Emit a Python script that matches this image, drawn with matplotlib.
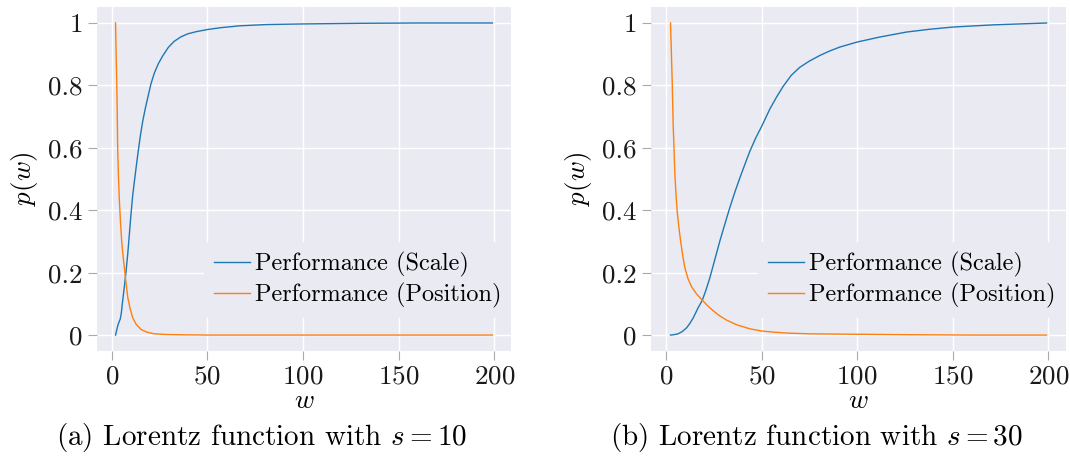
import matplotlib
matplotlib.use("Agg")
import matplotlib.pyplot as plt

# Lorentz performance curves, sampled values for s = 10
w_scale_10 = [2.0, 3.1, 4.0, 4.4, 5.0, 5.7, 6.6, 7.5, 8.4, 9.2, 10.1, 11.0, 12.2, 13.6, 15.0,
              16.2, 17.5, 18.8, 20.5, 22.3, 24.4, 26.7, 29.6, 32.6, 36.0, 39.6, 44.0, 50.0,
              57.0, 67.0, 81.0, 100.0, 130.0, 160.0, 199.0]
p_scale_10 = [0.0, 0.029, 0.045, 0.05, 0.07, 0.109, 0.155, 0.205, 0.262, 0.322, 0.39, 0.45,
              0.51, 0.578, 0.64, 0.685, 0.725, 0.76, 0.805, 0.84, 0.87, 0.895, 0.922, 0.941,
              0.955, 0.965, 0.972, 0.979, 0.985, 0.991, 0.995, 0.997, 0.999, 1.0, 1.0]
w_pos_10 = [2.0, 2.3, 2.6, 2.9, 3.1, 3.5, 4.0, 4.6, 5.2, 5.9, 6.6, 7.5, 8.4, 9.6, 11.0, 12.8,
            15.3, 18.5, 22.3, 27.5, 35.0, 50.0, 100.0, 150.0, 199.0]
p_pos_10 = [1.0, 0.9, 0.813, 0.7, 0.6, 0.51, 0.43, 0.36, 0.301, 0.255, 0.216, 0.165, 0.12,
            0.085, 0.055, 0.034, 0.018, 0.009, 0.004, 0.002, 0.001, 0.0, 0.0, 0.0, 0.0]

# same curves for s = 30
w_scale_30 = [2.4, 4.0, 6.4, 8.5, 10.8, 12.5, 14.3, 16.9, 19.0, 21.0, 23.0, 25.5, 28.2, 30.8,
              33.4, 36.0, 38.7, 41.3, 43.9, 47.0, 50.0, 54.4, 57.8, 61.3, 65.5, 70.0, 75.0,
              80.5, 85.5, 91.0, 100.0, 111.8, 125.8, 138.0, 150.0, 171.0, 185.0, 199.0]
p_scale_30 = [0.0, 0.001, 0.004, 0.011, 0.023, 0.037, 0.055, 0.088, 0.111, 0.145, 0.184, 0.24,
              0.301, 0.355, 0.408, 0.457, 0.504, 0.547, 0.589, 0.632, 0.668, 0.725, 0.762,
              0.797, 0.832, 0.858, 0.878, 0.896, 0.91, 0.923, 0.939, 0.955, 0.971, 0.98, 0.987,
              0.994, 0.997, 1.0]
w_pos_30 = [2.4, 2.8, 3.3, 3.8, 4.3, 4.7, 5.3, 5.9, 6.8, 7.7, 8.8, 9.9, 11.6, 13.4, 16.0, 19.0,
            21.8, 24.7, 28.0, 31.7, 37.0, 43.9, 50.0, 57.0, 64.4, 75.0, 90.0, 110.0, 130.0,
            160.0, 199.0]
p_pos_30 = [1.0, 0.92, 0.813, 0.675, 0.59, 0.514, 0.45, 0.397, 0.345, 0.301, 0.255, 0.216,
            0.18, 0.155, 0.132, 0.112, 0.094, 0.078, 0.062, 0.048, 0.033, 0.02, 0.013, 0.009,
            0.006, 0.004, 0.003, 0.002, 0.001, 0.0, 0.0]

y_ticks = [0, 0.2, 0.4, 0.6, 0.8, 1]
y_tick_labels = ["0", "0.2", "0.4", "0.6", "0.8", "1"]
x_ticks = [0, 50, 100, 150, 200]
captions = ["(a) Lorentz function with $s = 10$", "(b) Lorentz function with $s = 30$"]

plt.rcParams.update({
    "font.family": "serif",
    "font.serif": ["cmr10"],
    "mathtext.fontset": "cm",
    "axes.formatter.use_mathtext": True,
    "axes.facecolor": "#EAEAF2",
    "axes.edgecolor": "white",
    "axes.grid": True,
    "grid.color": "white",
    "grid.linewidth": 1.0,
    "xtick.color": "#aaaaaa",
    "ytick.color": "#aaaaaa",
    "xtick.labelcolor": "#1a1a1a",
    "ytick.labelcolor": "#1a1a1a",
    "xtick.major.size": 6.5,
    "ytick.major.size": 6.5,
    "xtick.major.width": 0.8,
    "ytick.major.width": 0.8,
})

fig = plt.figure(figsize=(10.7, 4.62), dpi=100)
ax1 = fig.add_axes([0.0903, 0.241, 0.3876, 0.743])
ax2 = fig.add_axes([0.6082, 0.241, 0.3876, 0.743])

panels = [
    (ax1, w_scale_10, p_scale_10, w_pos_10, p_pos_10, 0.245),
    (ax2, w_scale_30, p_scale_30, w_pos_30, p_pos_30, 0.763),
]

for (ax, ws, ps, wp, pp, cx), cap in zip(panels, captions):
    ax.plot(ws, ps, color="#1f77b4", lw=1.0, label="Performance (Scale)")
    ax.plot(wp, pp, color="#ff7f0e", lw=1.0, label="Performance (Position)")
    ax.set_axisbelow(True)
    for sp in ax.spines.values():
        sp.set_visible(False)
    ax.set_xticks(x_ticks)
    ax.set_yticks(y_ticks)
    ax.set_yticklabels(y_tick_labels)
    ax.set_xlim(-7.9, 208.9)
    ax.set_ylim(-0.05, 1.05)
    ax.tick_params(labelsize=19.5, pad=3.5)
    ax.set_xlabel("$w$", fontsize=19.5, labelpad=0.5)
    ax.set_ylabel("$p(w)$", fontsize=19.5, labelpad=6)
    leg = ax.legend(loc="lower right", bbox_to_anchor=(1.0, 0.095), fontsize=17.5,
                    frameon=True, handlelength=1.5, handletextpad=0.2, borderaxespad=0.0,
                    labelspacing=0.25, borderpad=0.4)
    leg.get_frame().set_facecolor("#EAEAF2")
    leg.get_frame().set_edgecolor("none")
    leg.get_frame().set_alpha(1.0)
    fig.text(cx, 0.054, cap, ha="center", va="center", fontsize=21)

fig.savefig("out.png", dpi=100)
